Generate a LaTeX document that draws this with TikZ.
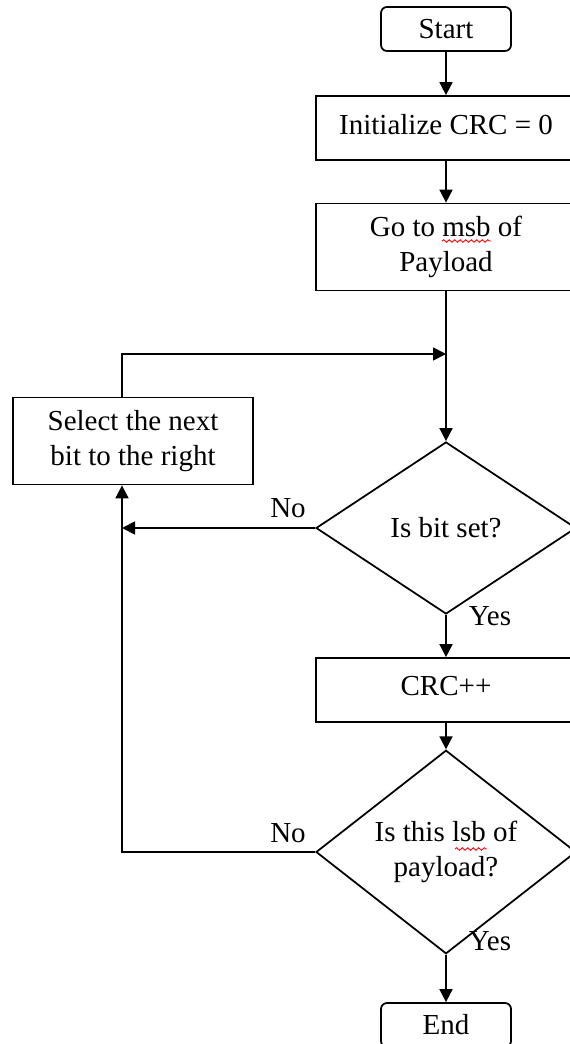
\documentclass[tikz,border=0pt]{standalone}
\usepackage{fontspec}
\setmainfont{Liberation Serif}
\usetikzlibrary{arrows.meta,shapes.geometric,decorations.pathmorphing}
\tikzset{
	boxfont/.style={font=\fontsize{16.5}{19.5}\selectfont},
	flow/.style={line width=1pt, -{Triangle[width=2.6mm,length=2.6mm]}},
	line/.style={line width=1pt},
	term/.style={draw, line width=1pt, rounded corners=1.2mm, minimum width=26mm, minimum height=8.8mm, boxfont},
	proc/.style={draw, line width=1pt, minimum width=52mm, align=center, boxfont},
	decide/.style={draw, diamond, line width=1pt, minimum width=52mm, minimum height=34.4mm, inner sep=0pt, align=center, boxfont},
	lbl/.style={boxfont},
	squiggle/.style={red, line width=0.5pt, decorate, decoration={snake, amplitude=0.25mm, segment length=1.1mm}}
}

\begin{document}
\begin{tikzpicture}[x=0.2mm, y=-0.2mm]
			%%%%% START %%%%%
			
			\useasboundingbox (0, 0) rectangle (570, 1044);
			\clip (0, 0) rectangle (570, 1044);
			
			\node[term] (start) at (446, 29) {Start};
			\node[proc, minimum height=12.8mm, text depth=1.6mm] (init) at (446, 128) {Initialize CRC = 0};
			\node[proc, minimum height=17.4mm] (msb) at (446, 247) {Go to msb of\\Payload};
			
			\node[proc, minimum width=48mm, minimum height=17.4mm] (sel) at (133, 441) {Select the next\\bit to the right};
			
			\node[decide] (bitset) at (446, 528) {Is bit set?};
			\node[proc, minimum height=12.8mm, text depth=1.6mm] (crc) at (446, 690) {CRC++};
			\node[decide] (lsb) at (446, 852) {Is this lsb of\\payload?};
			\node[term] (stop) at (446, 1025) {End};
			
			\coordinate (join) at (446, 354);
			\coordinate (ret) at (122, 354);
			
			\draw[flow] (start) -- (init);
			\draw[flow] (init) -- (msb);
			\draw[flow] (msb) -- (bitset);
			\draw[flow] (ret |- sel.north) -- (ret) -- (join);
			
			\draw[flow] (bitset.west) -- (ret |- bitset.west);
			\draw[flow] (bitset) -- (crc);
			\draw[flow] (crc) -- (lsb);
			\draw[flow] (lsb.west) -| (ret |- sel.south);
			\draw[flow] (lsb) -- (stop);
			
			\node[lbl] (no1) at (288, 508) {No};
			\node[lbl] (yes1) at (490, 616) {Yes};
			\node[lbl] (no2) at (288, 833) {No};
			\node[lbl] (yes2) at (490, 941) {Yes};
			
			\draw[squiggle] (442, 241) -- (491, 241);
			\draw[squiggle] (455, 849) -- (487, 849);
			
			%%%%% END %%%%%
\end{tikzpicture}
\end{document}
